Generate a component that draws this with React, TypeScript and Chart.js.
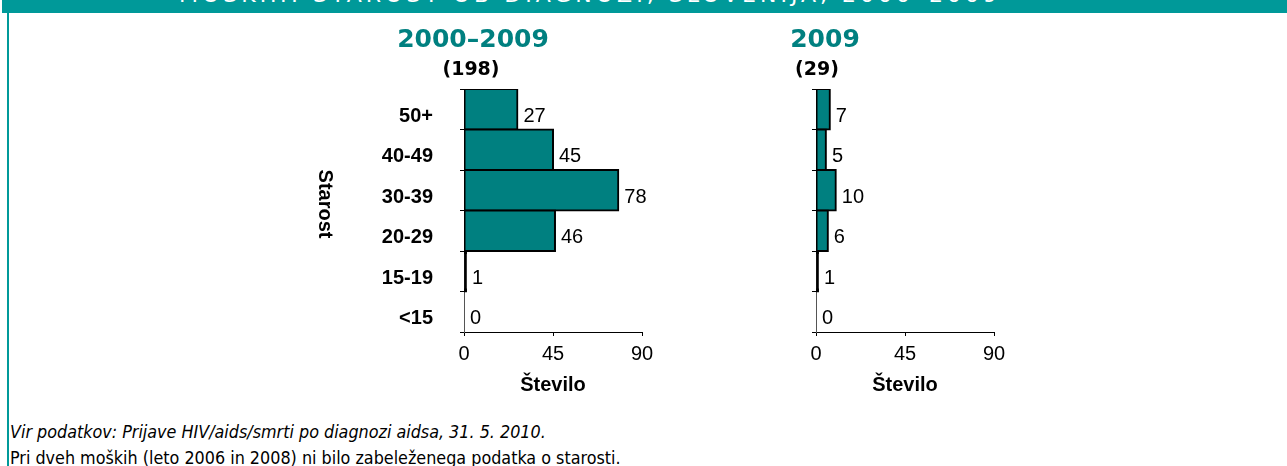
import React, { useEffect, useRef } from "react";
import { Chart, registerables } from "chart.js";

Chart.register(...registerables);

// ---- data ----
const headerTitle = "MOŠKIH: STAROST OB DIAGNOZI, SLOVENIJA, 2000–2009";
const ageGroups = ["50+", "40-49", "30-39", "20-29", "15-19", "<15"];
const counts2000to2009 = [27, 45, 78, 46, 1, 0];
const counts2009 = [7, 5, 10, 6, 1, 0];
const xTickValues = [0, 45, 90];
const panel1Title = "2000–2009";
const panel1Total = "(198)";
const panel2Title = "2009";
const panel2Total = "(29)";
const yAxisTitle = "Starost";
const xAxisTitle = "Število";
const footnote1 = "Vir podatkov: Prijave HIV/aids/smrti po diagnozi aidsa, 31. 5. 2010.";
const footnote2 = "Pri dveh moških (leto 2006 in 2008) ni bilo zabeleženega podatka o starosti.";

const TEAL = "#008080";
const HEADER_TEAL = "#009999";
const ARIAL = '"Liberation Sans", Arial, sans-serif';
const VERDANA = '"DejaVu Sans", Verdana, sans-serif';

const annotatePlugin = {
  id: "annotate",
  afterDatasetsDraw(chart: any, _args: any, opts: any) {
    const ctx = chart.ctx;
    const meta = chart.getDatasetMeta(0);
    const values = chart.data.datasets[0].data;
    ctx.save();
    ctx.font = `20px ${ARIAL}`;
    ctx.fillStyle = "#000";
    ctx.textAlign = "left";
    ctx.textBaseline = "middle";
    meta.data.forEach((el: any, i: number) => {
      ctx.fillText(String(values[i]), el.x + 6, el.y + 7);
    });
    const { left, top } = chart.chartArea;
    ctx.textAlign = "center";
    ctx.fillStyle = TEAL;
    ctx.font = `bold 25px ${VERDANA}`;
    ctx.fillText(opts.title, left + opts.titleDx, top - 49);
    ctx.fillStyle = "#000";
    ctx.font = `bold 19px ${VERDANA}`;
    ctx.fillText(opts.total, left + opts.totalDx, top - 19);
    if (opts.yTitle) {
      ctx.translate(left - 139, top + 115);
      ctx.rotate(Math.PI / 2);
      ctx.font = `bold 20px ${ARIAL}`;
      ctx.fillText(opts.yTitle, 0, 0);
    }
    ctx.restore();
  },
};

type PanelProps = {
  values: number[];
  title: string;
  total: string;
  showY: boolean;
  left: number;
  width: number;
  yWidth: number;
  titleDx: number;
  totalDx: number;
};

const CANVAS_TOP = 14;
const CANVAS_H = 400;

function Panel(p: PanelProps) {
  const ref = useRef<HTMLCanvasElement | null>(null);
  useEffect(() => {
    if (!ref.current) return;
    const plotRight = p.yWidth + 178;
    const chart = new Chart(ref.current, {
      type: "bar",
      data: {
        labels: ageGroups,
        datasets: [
          {
            data: p.values,
            backgroundColor: (c: any) => (c.raw <= 1 ? "#000" : TEAL),
            borderColor: "#000",
            borderWidth: 2,
            borderSkipped: false,
            inflateAmount: (c: any) => (c.raw === 0 ? 0 : 1),
            barPercentage: 1,
            categoryPercentage: 1,
          },
        ],
      },
      plugins: [annotatePlugin],
      options: {
        indexAxis: "y",
        animation: false,
        responsive: false,
        devicePixelRatio: 1,
        layout: { padding: { top: 75, left: 0, right: p.width - plotRight, bottom: 0 } },
        plugins: {
          legend: { display: false },
          tooltip: { enabled: false },
          annotate: {
            title: p.title,
            total: p.total,
            titleDx: p.titleDx,
            totalDx: p.totalDx,
            yTitle: p.showY ? yAxisTitle : null,
          },
        } as any,
        scales: {
          x: {
            type: "linear",
            min: 0,
            max: 90,
            afterBuildTicks: (s: any) => {
              s.ticks = xTickValues.map((v) => ({ value: v }));
            },
            afterFit: (s: any) => {
              s.height = CANVAS_H - 318;
            },
            ticks: { font: { family: ARIAL, size: 20 }, color: "#000", padding: 6, maxRotation: 0 },
            grid: { drawOnChartArea: false, tickLength: 4, color: "#000" },
            border: { color: "#000", width: 1 },
            title: {
              display: true,
              text: xAxisTitle,
              color: "#000",
              font: { family: ARIAL, size: 20, weight: "bold" },
              padding: { top: 0, bottom: 17 },
            },
          },
          y: {
            afterFit: (s: any) => {
              s.width = p.yWidth;
            },
            ticks: {
              display: p.showY,
              font: { family: ARIAL, size: 20, weight: "bold" },
              color: "#000",
              padding: 27,
              labelOffset: 7,
            },
            grid: { drawOnChartArea: false, tickLength: 4, color: "#000", offset: true },
            border: { color: "#555", width: 1 },
          },
        },
      } as any,
    });
    return () => chart.destroy();
  }, []);
  return (
    <canvas
      ref={ref}
      width={p.width}
      height={CANVAS_H}
      style={{ position: "absolute", left: p.left, top: CANVAS_TOP, width: p.width, height: CANVAS_H }}
    />
  );
}

export default function App() {
  return (
    <div
      style={{
        position: "absolute",
        left: 0,
        top: 0,
        width: 1287,
        height: 466,
        overflow: "hidden",
        background: "#fff",
      }}
    >
      <div
        style={{
          position: "absolute",
          left: 2,
          top: 0,
          width: 1285,
          height: 13,
          background: HEADER_TEAL,
          overflow: "hidden",
        }}
      >
        <div
          style={{
            position: "absolute",
            left: 173,
            width: 830,
            top: -18,
            textAlign: "center",
            color: "#fff",
            font: `22px ${VERDANA}`,
            letterSpacing: 4,
            whiteSpace: "nowrap",
          }}
        >
          {headerTitle}
        </div>
      </div>
      <div style={{ position: "absolute", left: 7, top: 0, width: 2, height: 466, background: HEADER_TEAL }} />
      <Panel
        values={counts2000to2009}
        title={panel1Title}
        total={panel1Total}
        showY={true}
        left={280}
        width={420}
        yWidth={184}
        titleDx={9}
        totalDx={7}
      />
      <Panel
        values={counts2009}
        title={panel2Title}
        total={panel2Total}
        showY={false}
        left={760}
        width={330}
        yWidth={56}
        titleDx={9}
        totalDx={1}
      />
      <div
        style={{
          position: "absolute",
          left: 10,
          top: 419,
          font: `italic 17.8px "DejaVu Sans Condensed", ${VERDANA}`,
          color: "#000",
          whiteSpace: "nowrap",
          lineHeight: "26px",
        }}
      >
        {footnote1}
        <br />
        <span style={{ fontStyle: "normal" }}>{footnote2}</span>
      </div>
    </div>
  );
}
